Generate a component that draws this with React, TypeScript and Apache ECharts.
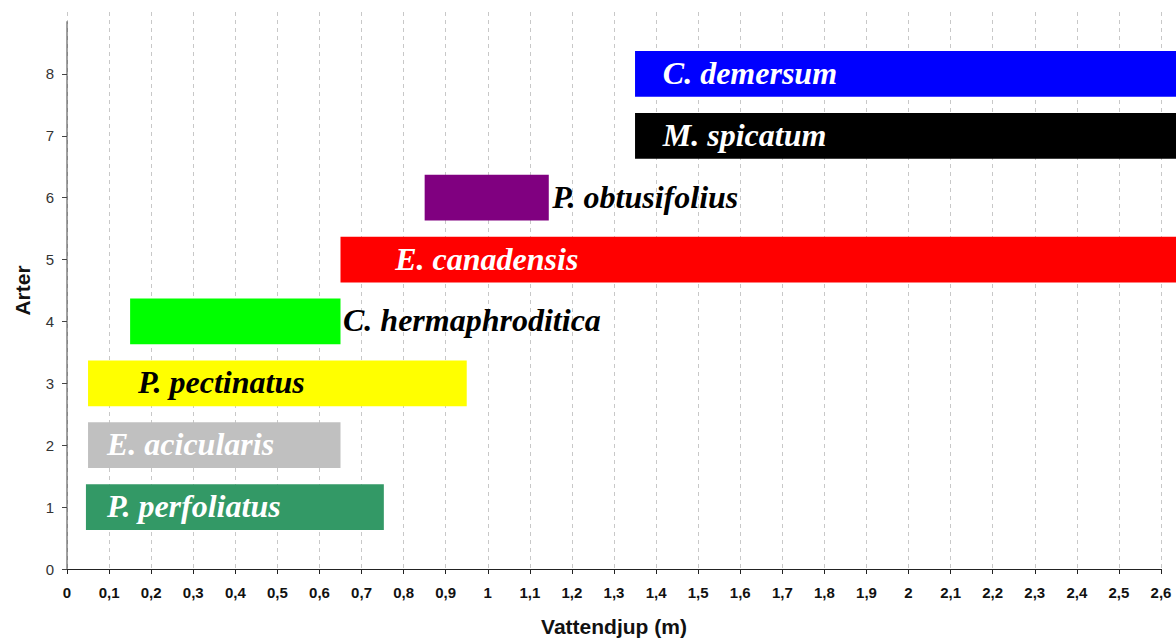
import React, { useEffect, useRef } from "react";
import * as echarts from "echarts";

const species = [
  "P. perfoliatus",
  "E. acicularis",
  "P. pectinatus",
  "C. hermaphroditica",
  "E. canadensis",
  "P. obtusifolius",
  "M. spicatum",
  "C. demersum",
];
const rows = [1, 2, 3, 4, 5, 6, 7, 8];
const depthFrom = [0.045, 0.05, 0.05, 0.15, 0.65, 0.85, 1.35, 1.35];
const depthTo = [0.753, 0.65, 0.95, 0.65, 2.7, 1.145, 2.7, 2.7];
const labelAt = [0.095, 0.095, 0.169, 0.656, 0.78, 1.153, 1.416, 1.416];
const barColors = ["#339966", "#C0C0C0", "#FFFF00", "#00FF00", "#FF0000", "#800080", "#000000", "#0000FF"];
const labelColors = ["#FFFFFF", "#FFFFFF", "#000000", "#000000", "#FFFFFF", "#000000", "#FFFFFF", "#FFFFFF"];
const yTicks = [0, 1, 2, 3, 4, 5, 6, 7, 8];

export default function App() {
  const ref = useRef<HTMLDivElement>(null);
  useEffect(() => {
    document.body.style.margin = "0";
    const chart = echarts.init(ref.current!, null, { renderer: "svg" });
    const data = rows.map((r, i) => [depthFrom[i], depthTo[i], r, i, labelAt[i]]);
    chart.setOption({
      animation: false,
      grid: { left: 67, right: 15, top: 12, bottom: 74, containLabel: false },
      xAxis: {
        type: "value",
        min: 0,
        max: 2.6,
        interval: 0.1,
        name: "Vattendjup (m)",
        nameLocation: "middle",
        nameGap: 47,
        nameTextStyle: { fontFamily: "Liberation Sans", fontWeight: "bold", fontSize: 21, color: "#111" },
        axisLine: { show: true, lineStyle: { color: "#222", width: 1 } },
        axisTick: { show: true, inside: false, length: 5, lineStyle: { color: "#222" } },
        axisLabel: {
          margin: 16,
          fontFamily: "Liberation Sans",
          fontWeight: "bold",
          fontSize: 15,
          color: "#111",
          formatter: (v: number) => String(Math.round(v * 10) / 10).replace(".", ","),
        },
        splitLine: { show: true, lineStyle: { color: "#c8c8c8", type: [4, 4], width: 1 } },
      },
      yAxis: {
        type: "value",
        min: 0,
        max: 9,
        interval: 1,
        name: "Arter",
        nameLocation: "middle",
        nameGap: 34,
        nameTextStyle: { fontFamily: "Liberation Sans", fontWeight: "bold", fontSize: 21, color: "#111" },
        axisLine: { show: false },
        axisTick: { show: true, length: 5, customValues: yTicks, lineStyle: { color: "#444" } },
        axisLabel: {
          margin: 13,
          customValues: yTicks,
          fontFamily: "Liberation Sans",
          fontSize: 15,
          color: "#333",
        },
        splitLine: { show: false },
      },
      series: [
        {
          type: "line",
          data: [
            [0, 0],
            [0, 8.85],
          ],
          symbol: "none",
          lineStyle: { color: "#444", width: 1 },
          silent: true,
          z: 5,
        },
        {
          type: "custom",
          clip: false,
          data,
          encode: { x: [0, 1], y: 2 },
          renderItem: (params: any, api: any) => {
            const idx = api.value(3);
            const s = api.coord([api.value(0), api.value(2)]);
            const e = api.coord([api.value(1), api.value(2)]);
            const l = api.coord([api.value(4), api.value(2)]);
            const h = api.size([0, 0.74])[1];
            return {
              type: "group",
              children: [
                {
                  type: "rect",
                  shape: { x: s[0], y: s[1] - h / 2, width: e[0] - s[0], height: h },
                  style: { fill: barColors[idx] },
                },
                {
                  type: "text",
                  x: l[0],
                  y: l[1] - 1,
                  style: {
                    text: species[idx],
                    fill: labelColors[idx],
                    font: 'italic bold 32px "Liberation Serif", "Times New Roman", serif',
                    align: "left",
                    verticalAlign: "middle",
                  },
                },
              ],
            };
          },
          z: 3,
        },
      ],
    });
    return () => chart.dispose();
  }, []);
  return (
    <div
      ref={ref}
      style={{ position: "absolute", left: 0, top: 0, width: 1176, height: 643, background: "#fff" }}
    />
  );
}
